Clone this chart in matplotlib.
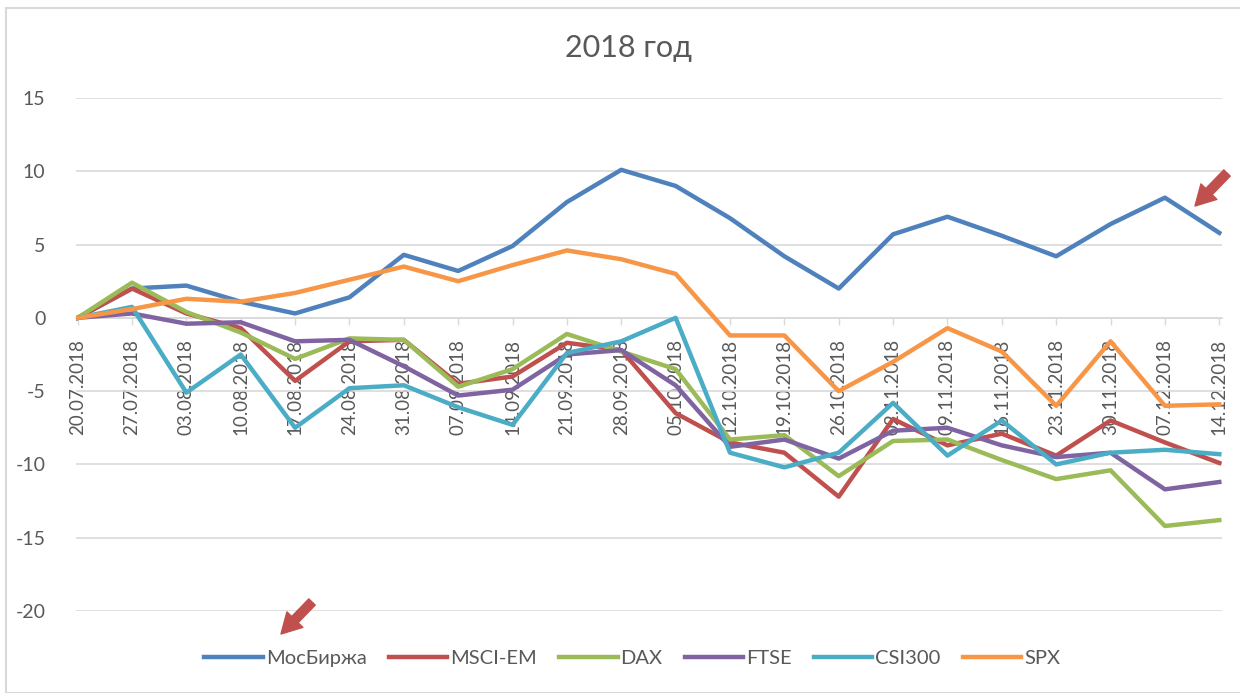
import matplotlib
matplotlib.use("Agg")
import matplotlib.pyplot as plt
from matplotlib.patches import Rectangle

dates = ["20.07.2018", "27.07.2018", "03.08.2018", "10.08.2018", "17.08.2018",
         "24.08.2018", "31.08.2018", "07.09.2018", "14.09.2018", "21.09.2018",
         "28.09.2018", "05.10.2018", "12.10.2018", "19.10.2018", "26.10.2018",
         "02.11.2018", "09.11.2018", "16.11.2018", "23.11.2018", "30.11.2018",
         "07.12.2018", "14.12.2018"]

moex = [0, 2.0, 2.2, 1.1, 0.3, 1.4, 4.3, 3.2, 4.9, 7.9, 10.1,
        9.0, 6.8, 4.2, 2.0, 5.7, 6.9, 5.6, 4.2, 6.4, 8.2, 5.8]
msci_em = [0, 2.0, 0.3, -0.7, -4.3, -1.6, -1.5, -4.5, -4.0, -1.7, -2.2,
           -6.5, -8.5, -9.2, -12.2, -6.9, -8.7, -7.9, -9.4, -7.0, -8.5, -9.9]
dax = [0, 2.4, 0.4, -1.0, -2.8, -1.4, -1.5, -4.7, -3.5, -1.1, -2.3,
       -3.5, -8.3, -8.0, -10.8, -8.4, -8.3, -9.7, -11.0, -10.4, -14.2, -13.8]
ftse = [0, 0.3, -0.4, -0.3, -1.6, -1.5, -3.3, -5.3, -4.9, -2.5, -2.2,
        -4.6, -8.8, -8.3, -9.6, -7.7, -7.5, -8.7, -9.5, -9.2, -11.7, -11.2]
csi300 = [0, 0.75, -5.1, -2.5, -7.5, -4.8, -4.6, -6.1, -7.3, -2.4, -1.6,
          0.0, -9.2, -10.2, -9.2, -5.8, -9.4, -7.0, -10.0, -9.2, -9.0, -9.3]
spx = [0, 0.6, 1.3, 1.1, 1.7, 2.6, 3.5, 2.5, 3.6, 4.6, 4.0,
       3.0, -1.2, -1.2, -5.0, -3.0, -0.7, -2.3, -6.0, -1.6, -6.0, -5.9]

names = ["МосБиржа", "MSCI-EM", "DAX", "FTSE", "CSI300", "SPX"]
series = [moex, msci_em, dax, ftse, csi300, spx]
colors = ["#4F81BD", "#C0504D", "#9BBB59", "#8064A2", "#4BACC6", "#F79646"]
yticks = [-20, -15, -10, -5, 0, 5, 10, 15]

plt.rcParams["font.family"] = ["Lato", "DejaVu Sans"]
txt = "#595959"
grid = "#D9D9D9"

fig = plt.figure(figsize=(12.4, 6.93), dpi=100)
# chart frame
fig.patches.append(Rectangle((6 / 1240, 0), 1.1, 1 - 8 / 693, transform=fig.transFigure,
                             fill=False, edgecolor=grid, lw=1.5))

ax = fig.add_axes([76 / 1240, 1 - 611 / 693, (1222 - 76) / 1240, (611 - 98) / 693])
# x axis crosses at zero (set before tick styling, it resets ticks)
for s in ["top", "right", "left"]:
    ax.spines[s].set_visible(False)
ax.spines["bottom"].set_position(("data", 0))
ax.spines["bottom"].set_color(grid)
ax.spines["bottom"].set_linewidth(1.2)

x = list(range(len(dates)))
for vals, name, c in zip(series, names, colors):
    ax.plot(x, vals, color=c, lw=3.2, label=name, solid_joinstyle="round", zorder=3)

ax.set_xlim(-0.03, 21.05)
ax.set_ylim(-20, 15)
ax.set_yticks(yticks)
ax.set_yticklabels([str(v) for v in yticks])
ax.set_xticks(x)
ax.set_xticklabels(dates)
ax.grid(axis="y", color=grid, lw=1.2)
ax.tick_params(axis="y", length=0, pad=22, labelsize=14, labelcolor=txt)
ax.tick_params(axis="x", length=5, width=1, color=grid, pad=10, labelsize=13.5,
               labelcolor=txt, labelrotation=90)
plt.setp(ax.get_xticklabels(), va="top", ha="center")

fig.text(0.507, 1 - 48 / 693, "2018 год", ha="center", va="center", fontsize=22, color=txt)

fig.legend(loc="center", bbox_to_anchor=(0.51, 1 - 658 / 693), ncol=6, frameon=False,
           fontsize=14.5, handlelength=2.9, handletextpad=0.15, columnspacing=1.1,
           labelcolor=txt)

# red arrows (annotations on the screenshot)
for tail, tip in [((1227, 693 - 173), (1195, 693 - 206)), ((312, 693 - 602), (281, 693 - 634))]:
    ax.annotate("", xy=tip, xycoords="figure pixels", xytext=tail, textcoords="figure pixels",
                arrowprops=dict(arrowstyle="simple,head_length=0.9,head_width=1.0,tail_width=0.4",
                                color="#C0504D", mutation_scale=16, shrinkA=0, shrinkB=0),
                annotation_clip=False)

fig.savefig("out.png", dpi=100)
